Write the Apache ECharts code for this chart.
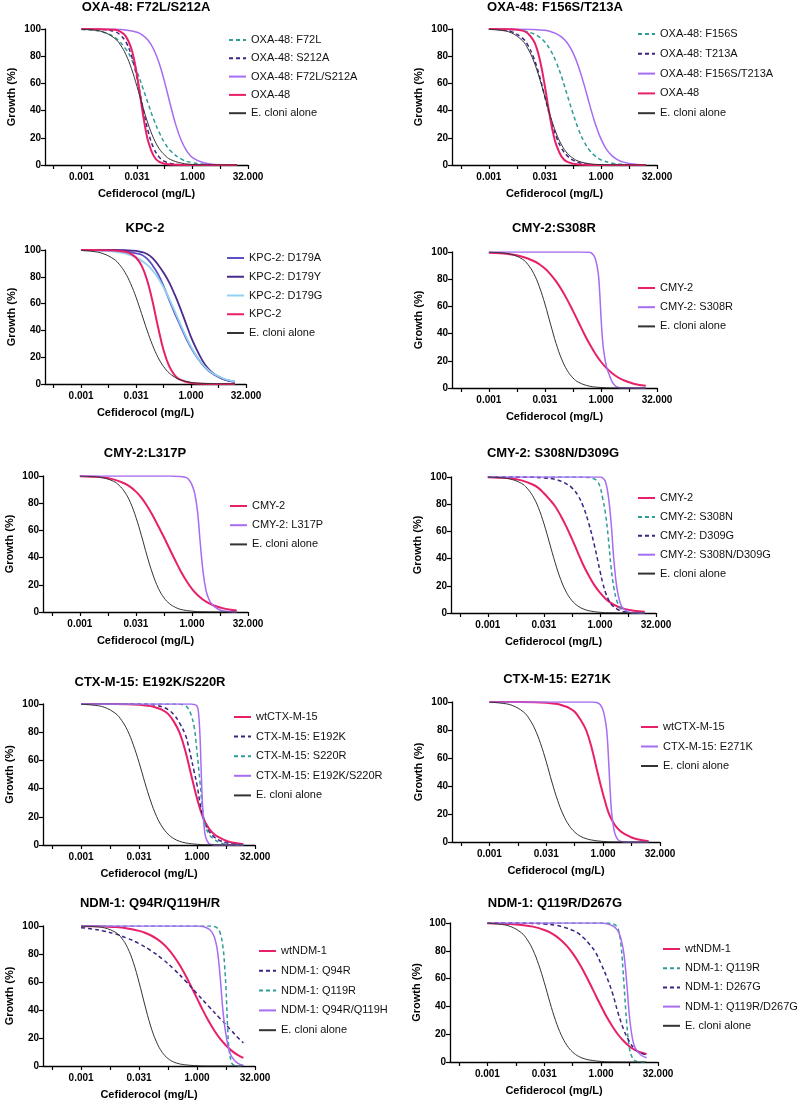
<!DOCTYPE html>
<html>
<head>
<meta charset="utf-8">
<script src="https://cdn.jsdelivr.net/npm/echarts@6/dist/echarts.min.js"></script>
<style>
html, body { margin: 0; padding: 0; background: #fff; }
#chart { width: 800px; height: 1104px; }
</style>
</head>
<body>
<div id="chart"></div>
<script>
// Cefiderocol dose (mg/L) vs growth (%)
// OXA-48: F72L/S212A
var p1F72L = [[0.000977,99.6],[0.00195,99.1],[0.0039,97.6],[0.0078,93.8],[0.0156,85.2],[0.0221,77.9],[0.0313,68.6],[0.0442,57.2],[0.0625,45.3],[0.0884,33.6],[0.125,24],[0.177,16.1],[0.25,10.6],[0.5,4.3],[1,1.7],[2,0.6],[4,0.2],[16,0]];
var p1S212A = [[0.000977,100],[0.0039,99.6],[0.0078,98.1],[0.011,95.6],[0.0156,90.5],[0.0221,80.4],[0.0313,63.9],[0.0442,43.3],[0.0625,24.8],[0.0884,12.5],[0.125,5.8],[0.177,2.6],[0.25,1.1],[0.5,0.2],[1,0],[16,0]];
var p1Double = [[0.000977,100],[0.0078,99.8],[0.0156,99.3],[0.0313,97.6],[0.0442,95.5],[0.0625,91.7],[0.0884,85.1],[0.125,74.8],[0.177,60.6],[0.25,44.5],[0.354,29.3],[0.5,17.8],[0.707,10.1],[1,5.5],[2,1.6],[4,0.4],[8,0.1],[16,0]];
var p1WT = [[0.000977,100],[0.0078,99.4],[0.011,98.1],[0.0156,94.6],[0.0221,85.3],[0.0263,77],[0.0313,65.9],[0.0372,52.7],[0.0442,39.2],[0.0526,27.1],[0.0625,17.6],[0.0884,6.7],[0.125,2.3],[0.25,0.3],[1,0],[16,0]];
var p1Cloni = [[0.000977,99.8],[0.00195,99.3],[0.0039,97.7],[0.0078,93.1],[0.011,88.5],[0.0156,81.2],[0.0221,70.9],[0.0313,57.7],[0.0442,43.5],[0.0625,30.2],[0.0884,19.6],[0.125,12],[0.177,7.2],[0.25,4.1],[0.5,1.4],[1,0.4],[2,0.1],[16,0]];
// OXA-48: F156S/T213A
var p2F156S = [[0.000977,100],[0.0039,99.6],[0.0078,98.8],[0.0156,96.5],[0.0221,94.2],[0.0313,90.3],[0.0442,84.4],[0.0625,75.8],[0.0884,64.6],[0.125,51.2],[0.177,38],[0.25,26.1],[0.354,17.1],[0.5,10.6],[0.707,6.5],[1,3.8],[2,1.3],[4,0.4],[8,0.1],[16,0]];
var p2T213A = [[0.000977,99.9],[0.00195,99.5],[0.0039,98.1],[0.0078,93.3],[0.011,87.9],[0.0156,78.9],[0.0221,65.9],[0.0313,50],[0.0442,34.1],[0.0625,21.1],[0.0884,12.1],[0.125,6.7],[0.177,3.6],[0.25,1.9],[0.5,0.5],[1,0.1],[16,0]];
var p2Double = [[0.000977,100],[0.0078,99.9],[0.0156,99.7],[0.0313,99],[0.0442,98.1],[0.0625,96.6],[0.0884,94],[0.125,89.7],[0.177,82.6],[0.25,72.3],[0.354,58.9],[0.5,44],[0.707,30.2],[1,19.2],[1.41,11.5],[2,6.7],[2.83,3.8],[4,2.1],[8,0.6],[16,0.2]];
var p2WT = [[0.000977,100],[0.0039,99.8],[0.0078,98.8],[0.011,96.7],[0.0156,91.3],[0.0186,86.3],[0.0221,79.1],[0.0263,69.4],[0.0313,57.7],[0.0372,45],[0.0442,33],[0.0526,22.8],[0.0625,15.1],[0.0884,6],[0.125,2.3],[0.25,0.3],[0.5,0],[16,0]];
var p2Cloni = [[0.000977,99.7],[0.00195,99.1],[0.0039,97.2],[0.0078,91.4],[0.011,85.4],[0.0156,76.5],[0.0221,64.3],[0.0313,50],[0.0442,35.7],[0.0625,23.5],[0.0884,14.6],[0.125,8.6],[0.177,5],[0.25,2.8],[0.5,0.9],[1,0.3],[2,0.1],[16,0]];
// KPC-2
var p3D179A = [[0.000977,100],[0.0039,99.8],[0.0156,99],[0.0313,97.5],[0.0442,96.5],[0.0625,93.5],[0.0884,88.5],[0.125,82],[0.177,73],[0.25,63],[0.354,53],[0.5,44],[0.707,35],[1,27],[1.41,20.5],[2,15],[2.83,10.5],[4,7.5],[8,3.5],[16,1.6]];
var p3D179Y = [[0.000977,100],[0.0078,100],[0.0156,99.8],[0.0313,99.3],[0.0442,98.5],[0.0625,97],[0.0884,94],[0.125,89],[0.177,83],[0.25,76],[0.354,67],[0.5,57],[0.707,46],[1,35],[1.41,26],[2,18],[2.83,12],[4,8],[5.66,5.5],[8,3.5],[16,1.5]];
var p3D179G = [[0.000977,99.9],[0.00195,99.7],[0.0039,99.4],[0.0078,98.8],[0.0156,97.4],[0.0313,94.5],[0.0625,89],[0.0884,84.7],[0.125,79.1],[0.177,72.1],[0.25,63.9],[0.354,54.7],[0.5,45.3],[0.707,36.1],[1,27.9],[1.41,20.9],[2,15.3],[2.83,11],[4,7.8],[8,3.8],[16,1.8]];
var p3KPC2 = [[0.000977,100],[0.0039,99.9],[0.0078,99.7],[0.0156,98.7],[0.0221,97.3],[0.0313,94.2],[0.0442,88.3],[0.0625,77.6],[0.0884,61.5],[0.125,42.3],[0.177,25.2],[0.25,13.5],[0.354,6.7],[0.5,3.2],[1,0.7],[2,0.1],[16,0]];
var p3Cloni = [[0.000977,99.6],[0.00195,99],[0.0039,97.3],[0.0078,93.1],[0.011,89.1],[0.0156,83.2],[0.0221,75],[0.0313,64.6],[0.0442,52.5],[0.0625,40.1],[0.0884,28.9],[0.125,19.8],[0.177,13],[0.25,8.3],[0.354,5.2],[0.5,3.2],[1,1.2],[2,0.5],[4,0.2],[16,0]];
// CMY-2:S308R
var p4CMY2 = [[0.000977,99.5],[0.00195,99.1],[0.0039,98.2],[0.0078,96.5],[0.0156,93.4],[0.0221,91],[0.0313,87.8],[0.0442,83.6],[0.0625,78.4],[0.0884,72.1],[0.125,64.8],[0.177,56.7],[0.25,48.3],[0.354,39.9],[0.5,32.1],[0.707,25.2],[1,19.3],[1.41,14.6],[2,10.8],[2.83,7.9],[4,5.8],[8,3],[16,1.6]];
var p4S308R = [[0.000977,100],[0.25,100],[0.5,99.8],[0.595,98.5],[0.707,95],[0.841,85],[0.917,72],[1,53],[1.09,37],[1.19,27],[1.41,15.5],[1.68,9.5],[2,4.5],[2.38,1.8],[2.83,0.6],[4,0.1],[16,0]];
var p4Cloni = [[0.000977,99.8],[0.00195,99.5],[0.0039,98.3],[0.0078,94.7],[0.011,90.7],[0.0156,84.3],[0.0221,74.6],[0.0313,61.8],[0.0442,47],[0.0625,32.7],[0.0884,21.1],[0.125,12.8],[0.177,7.4],[0.25,4.2],[0.5,1.3],[1,0.4],[2,0.1],[16,0]];
// CMY-2:L317P
var p5CMY2 = [[0.000977,99.8],[0.00195,99.5],[0.0039,99],[0.0078,97.5],[0.0156,94.5],[0.0221,92],[0.0313,88.5],[0.0442,84],[0.0625,78],[0.0884,71],[0.125,63],[0.177,55],[0.25,46.5],[0.354,38],[0.5,30],[0.707,23],[1,17],[1.41,12.5],[2,9],[2.83,6.5],[4,4.6],[8,2.3],[16,1.1]];
var p5L317P = [[0.000977,100],[0.25,100],[0.5,99.7],[0.707,98.8],[0.841,97],[1,93.5],[1.19,87],[1.41,74],[1.68,50],[2,29],[2.38,16],[2.83,9.5],[3.36,6],[4,4],[5.66,1.5],[8,0.5],[16,0]];
var p5Cloni = [[0.000977,99.9],[0.00195,99.6],[0.0039,98.8],[0.0078,96.1],[0.011,93.2],[0.0156,88.3],[0.0221,80.7],[0.0313,69.6],[0.0442,56],[0.0625,41.1],[0.0884,27.9],[0.125,17.5],[0.177,10.5],[0.25,6.1],[0.354,3.5],[0.5,1.9],[1,0.6],[2,0.2],[16,0]];
// CMY-2: S308N/D309G
var p6CMY2 = [[0.000977,99.8],[0.00195,99.5],[0.0039,99],[0.0078,97.5],[0.0156,94.5],[0.0221,92],[0.0313,88],[0.0442,83.5],[0.0625,78.5],[0.0884,71.5],[0.125,63.5],[0.177,54.5],[0.25,45],[0.354,35.5],[0.5,27.5],[0.707,20.5],[1,15],[1.41,10.5],[2,7.3],[2.83,5],[4,3.4],[8,1.7],[16,0.9]];
var p6S308N = [[0.000977,100],[0.25,100],[0.5,99.7],[0.707,98.5],[0.841,97],[1,93],[1.19,84],[1.41,73],[1.68,55],[2,33],[2.38,18],[2.83,9],[3.36,4.5],[4,2],[5.66,0.5],[8,0.1],[16,0]];
var p6D309G = [[0.000977,100],[0.0156,99.8],[0.0313,99.3],[0.0625,98.3],[0.0884,97],[0.125,95],[0.177,92],[0.25,87],[0.354,78.5],[0.5,66],[0.707,50],[1,31],[1.19,22],[1.41,15],[1.68,10],[2,6.5],[2.83,3],[4,1.2],[5.66,0.4],[8,0],[16,0]];
var p6Double = [[0.000977,100],[1,100],[1.19,99.3],[1.41,96.5],[1.68,86],[2,66],[2.38,38],[2.83,19],[3.36,9],[4,4],[5.66,1],[8,0.2],[16,0]];
var p6Cloni = [[0.000977,99.9],[0.00195,99.5],[0.0039,98.5],[0.0078,95.3],[0.011,91.8],[0.0156,86.2],[0.0221,77.6],[0.0313,65.7],[0.0442,51.5],[0.0625,37.1],[0.0884,24.6],[0.125,15.3],[0.177,9.1],[0.25,5.3],[0.354,3],[0.5,1.7],[1,0.5],[2,0.2],[16,0]];
// CTX-M-15: E192K/S220R
var p7WT = [[0.000977,100],[0.0156,99.9],[0.0313,99.5],[0.0625,98.5],[0.0884,97.3],[0.125,95.8],[0.177,93],[0.25,87.5],[0.354,79.5],[0.5,66.5],[0.707,49.5],[1,33],[1.41,20],[2,12],[2.83,7.5],[4,5],[5.66,3],[8,1.8],[16,0.6]];
var p7E192K = [[0.000977,100],[0.0313,100],[0.0625,99.6],[0.0884,99],[0.125,98],[0.177,96],[0.25,92.5],[0.354,86.5],[0.5,78],[0.595,70.5],[0.707,61.5],[0.841,52],[1,42.5],[1.19,30],[1.41,20.5],[1.68,14],[2,10],[2.83,5.5],[4,3],[5.66,1.6],[8,0.8],[16,0.2]];
var p7S220R = [[0.000977,100],[0.25,100],[0.354,99.8],[0.5,98.8],[0.595,96.5],[0.707,92],[0.841,84],[1,66],[1.19,45],[1.41,24],[1.68,13],[2,8],[2.38,5.5],[2.83,3.8],[4,1.5],[5.66,0.5],[8,0.1],[16,0]];
var p7Double = [[0.000977,100],[0.707,100],[0.841,99.7],[1,98.5],[1.09,94],[1.19,78],[1.3,48],[1.41,25],[1.54,12],[1.68,5.5],[2,1.2],[2.38,0.3],[2.83,0],[16,0]];
var p7Cloni = [[0.000977,99.8],[0.00195,99.2],[0.0039,97.7],[0.0078,93.1],[0.011,88.4],[0.0156,81.3],[0.0221,71.1],[0.0313,58.4],[0.0442,44.3],[0.0625,31.2],[0.0884,20.4],[0.125,12.8],[0.177,7.7],[0.25,4.5],[0.354,2.6],[0.5,1.5],[1,0.5],[2,0.2],[16,0]];
// CTX-M-15: E271K
var p8WT = [[0.000977,100],[0.0156,99.9],[0.0313,99.5],[0.0625,98.5],[0.0884,97.3],[0.125,95.8],[0.177,93],[0.25,87.5],[0.354,80],[0.5,67],[0.707,50],[1,34],[1.41,20.5],[2,12.5],[2.83,7.8],[4,5.2],[5.66,3.2],[8,1.9],[16,0.6]];
var p8E271K = [[0.000977,100],[0.5,100],[0.707,99.5],[0.841,98],[1,94],[1.19,84],[1.3,73],[1.41,56],[1.54,36],[1.68,21],[2,7],[2.38,2.2],[2.83,0.6],[4,0],[16,0]];
var p8Cloni = [[0.000977,99.8],[0.00195,99.2],[0.0039,97.6],[0.0078,92.9],[0.011,88.1],[0.0156,80.7],[0.0221,70.3],[0.0313,57.2],[0.0442,42.8],[0.0625,29.7],[0.0884,19.3],[0.125,11.9],[0.177,7.1],[0.25,4.1],[0.354,2.4],[0.5,1.4],[1,0.4],[2,0.1],[16,0]];
// NDM-1: Q94R/Q119H/R
var p9WT = [[0.000977,99.9],[0.00195,99.8],[0.0039,99.6],[0.0078,99.2],[0.0156,98.2],[0.0313,96.5],[0.0442,95.2],[0.0625,93.4],[0.0884,91],[0.125,87.8],[0.177,83.6],[0.25,78.4],[0.354,72.1],[0.5,64.8],[0.707,56.7],[1,48.3],[1.41,39.9],[2,32.1],[2.83,25.2],[4,19.3],[5.66,14.6],[8,10.8],[11.3,7.9],[16,5.8]];
var p9Q94R = [[0.000977,98.8],[0.00195,97.8],[0.0039,96.3],[0.0078,94.2],[0.0156,91.2],[0.0313,87.4],[0.0625,82.5],[0.125,76.5],[0.25,69.2],[0.5,60.8],[1,51.7],[2,42.6],[4,33.8],[8,25],[11.3,20.5],[16,16.5]];
var p9Q119R = [[0.000977,100],[2,100],[2.83,99.7],[3.36,98.5],[4,95],[4.76,84],[5.19,72],[5.66,55],[6.17,30],[6.73,13],[8,2],[9.51,0.3],[11.3,0],[16,0]];
var p9Double = [[0.000977,100],[1,100],[1.41,99.6],[2,98],[2.38,96],[2.83,92],[3.36,83],[4,63],[4.76,38],[5.66,22],[6.73,12],[8,6.5],[11.3,2],[16,0.5]];
var p9Cloni = [[0.000977,99.9],[0.00195,99.6],[0.0039,98.7],[0.0078,95.3],[0.011,91.4],[0.0156,84.6],[0.0221,74.1],[0.0313,59.6],[0.0442,43.5],[0.0625,28.5],[0.0884,17.2],[0.125,9.7],[0.177,5.3],[0.25,2.8],[0.354,1.5],[0.5,0.8],[1,0.2],[2,0],[16,0]];
// NDM-1: Q119R/D267G
var p10WT = [[0.000977,99.8],[0.00195,99.6],[0.0039,99.3],[0.0078,98.6],[0.0156,97.4],[0.0313,95],[0.0442,93.2],[0.0625,90.7],[0.0884,87.4],[0.125,83.3],[0.177,78.1],[0.25,71.9],[0.354,64.6],[0.5,56.7],[0.707,48.3],[1,40.1],[1.41,32.3],[2,25.5],[2.83,19.6],[4,14.9],[5.66,11.1],[8,8.5],[11.3,6.8],[16,5.8]];
var p10Q119R = [[0.000977,100],[1.41,100],[2,99.5],[2.38,98.5],[2.83,95.5],[3.36,84],[4,57],[4.76,28],[5.66,9.5],[6.73,3],[8,0.8],[11.3,0],[16,0]];
var p10D267G = [[0.000977,100],[0.0078,99.9],[0.0156,99.7],[0.0313,99.3],[0.0625,98.4],[0.0884,97.5],[0.125,96.3],[0.177,94.7],[0.25,92.5],[0.354,89],[0.5,84.5],[0.707,79],[1,70.5],[1.41,61],[2,49.5],[2.83,35],[4,23],[5.66,14.5],[8,9],[11.3,6.5],[16,5]];
var p10Double = [[0.000977,100],[1,100],[1.41,99.5],[2,98],[2.38,96.5],[2.83,94],[3.36,88.5],[4,78],[4.76,57],[5.66,32],[6.73,17],[8,10],[11.3,5],[16,3]];
var p10Cloni = [[0.000977,99.8],[0.00195,99.2],[0.0039,97.6],[0.0078,92.9],[0.011,88.1],[0.0156,80.7],[0.0221,70.3],[0.0313,57.2],[0.0442,42.8],[0.0625,29.7],[0.0884,19.3],[0.125,11.9],[0.177,7.1],[0.25,4.1],[0.354,2.4],[0.5,1.4],[1,0.4],[2,0.1],[16,0]];

// x axis ticks (mg/L)
var xLabelValues = [0.0009765625, 0.03125, 1, 32];
var xLabelTexts = ['0.001', '0.031', '1.000', '32.000'];
var xTickValues = [0.000172633, 0.0009765625, 0.0055243, 0.03125, 0.1767767, 1, 5.656854, 32];

var FONT = '"Liberation Sans", Arial, Helvetica, sans-serif';
var styles = {
    teal:   { color: '#2e9d96', width: 1.5, type: [4, 3] },
    indigo: { color: '#3d2382', width: 1.5, type: [4, 3] },
    violet: { color: '#a66cf2', width: 1.5, type: 'solid' },
    pink:   { color: '#e8206a', width: 2, type: 'solid' },
    black:  { color: '#333333', width: 1, type: 'solid' },
    kpcA:   { color: '#5b50c6', width: 1.8, type: 'solid' },
    kpcY:   { color: '#4a2a8e', width: 1.8, type: 'solid' },
    kpcG:   { color: '#90d2ef', width: 1.8, type: 'solid' }
};

var panels = [
    { title: 'OXA-48: F72L/S212A', grid: [45, 29, 203, 136], tx: 146, ty: 7, lg: [228, 40, 18.3],
      curves: [['OXA-48: F72L', p1F72L, 'teal'], ['OXA-48: S212A', p1S212A, 'indigo'], ['OXA-48: F72L/S212A', p1Double, 'violet'], ['OXA-48', p1WT, 'pink'], ['E. cloni alone', p1Cloni, 'black']] },
    { title: 'OXA-48: F156S/T213A', grid: [452, 29, 205, 136], tx: 555, ty: 7, lg: [637, 34, 19.8],
      curves: [['OXA-48: F156S', p2F156S, 'teal'], ['OXA-48: T213A', p2T213A, 'indigo'], ['OXA-48: F156S/T213A', p2Double, 'violet'], ['OXA-48', p2WT, 'pink'], ['E. cloni alone', p2Cloni, 'black']] },
    { title: 'KPC-2', grid: [45, 250, 201, 134], tx: 145, ty: 228, lg: [226, 258, 18.75],
      curves: [['KPC-2: D179A', p3D179A, 'kpcA'], ['KPC-2: D179Y', p3D179Y, 'kpcY'], ['KPC-2: D179G', p3D179G, 'kpcG'], ['KPC-2', p3KPC2, 'pink'], ['E. cloni alone', p3Cloni, 'black']] },
    { title: 'CMY-2:S308R', grid: [452, 252, 205, 136], tx: 554, ty: 228, lg: [637, 288, 19.2],
      curves: [['CMY-2', p4CMY2, 'pink'], ['CMY-2: S308R', p4S308R, 'violet'], ['E. cloni alone', p4Cloni, 'black']] },
    { title: 'CMY-2:L317P', grid: [43, 476, 205, 136], tx: 145, ty: 453, lg: [229, 506, 19.2],
      curves: [['CMY-2', p5CMY2, 'pink'], ['CMY-2: L317P', p5L317P, 'violet'], ['E. cloni alone', p5Cloni, 'black']] },
    { title: 'CMY-2: S308N/D309G', grid: [451, 477, 205, 136], tx: 553, ty: 453, lg: [637, 498, 18.9],
      curves: [['CMY-2', p6CMY2, 'pink'], ['CMY-2: S308N', p6S308N, 'teal'], ['CMY-2: D309G', p6D309G, 'indigo'], ['CMY-2: S308N/D309G', p6Double, 'violet'], ['E. cloni alone', p6Cloni, 'black']] },
    { title: 'CTX-M-15: E192K/S220R', grid: [43, 704, 212, 141], tx: 150, ty: 682, lg: [233, 717, 19.6],
      curves: [['wtCTX-M-15', p7WT, 'pink'], ['CTX-M-15: E192K', p7E192K, 'indigo'], ['CTX-M-15: S220R', p7S220R, 'teal'], ['CTX-M-15: E192K/S220R', p7Double, 'violet'], ['E. cloni alone', p7Cloni, 'black']] },
    { title: 'CTX-M-15: E271K', grid: [452, 702, 208, 140], tx: 557, ty: 679, lg: [640, 727, 19.5],
      curves: [['wtCTX-M-15', p8WT, 'pink'], ['CTX-M-15: E271K', p8E271K, 'violet'], ['E. cloni alone', p8Cloni, 'black']] },
    { title: 'NDM-1: Q94R/Q119H/R', grid: [43, 926, 212, 140], tx: 150, ty: 903, lg: [258, 951, 19.8],
      curves: [['wtNDM-1', p9WT, 'pink'], ['NDM-1: Q94R', p9Q94R, 'indigo'], ['NDM-1: Q119R', p9Q119R, 'teal'], ['NDM-1: Q94R/Q119H', p9Double, 'violet'], ['E. cloni alone', p9Cloni, 'black']] },
    { title: 'NDM-1: Q119R/D267G', grid: [450, 923, 208, 139], tx: 555, ty: 903, lg: [662, 949, 19.2],
      curves: [['wtNDM-1', p10WT, 'pink'], ['NDM-1: Q119R', p10Q119R, 'teal'], ['NDM-1: D267G', p10D267G, 'indigo'], ['NDM-1: Q119R/D267G', p10Double, 'violet'], ['E. cloni alone', p10Cloni, 'black']] }
];

function xLabel(v) {
    var best = 0;
    for (var i = 1; i < xLabelValues.length; i++) {
        if (Math.abs(Math.log(v / xLabelValues[i])) < Math.abs(Math.log(v / xLabelValues[best]))) best = i;
    }
    return xLabelTexts[best];
}

var chart = echarts.init(document.getElementById('chart'));
var option = {
    animation: false,
    backgroundColor: '#fff',
    textStyle: { fontFamily: FONT },
    title: [], grid: [], xAxis: [], yAxis: [], legend: [], series: []
};

panels.forEach(function (p, i) {
    option.title.push({
        text: p.title, left: p.tx, top: p.ty - 6, textAlign: 'center', padding: 0,
        textStyle: { fontSize: 13, fontWeight: 'bold', color: '#000', fontFamily: FONT }
    });
    option.grid.push({ left: p.grid[0], top: p.grid[1], width: p.grid[2], height: p.grid[3] });
    option.xAxis.push({
        type: 'log', logBase: 2, gridIndex: i, min: 0.0001, max: 32,
        name: 'Cefiderocol (mg/L)', nameLocation: 'middle', nameGap: 23,
        nameTextStyle: { fontSize: 11, fontWeight: 'bold', color: '#000', fontFamily: FONT },
        axisLine: { show: true, lineStyle: { color: '#000', width: 1.3 } },
        axisTick: { show: true, length: 4, customValues: xTickValues, lineStyle: { color: '#000', width: 1.2 } },
        axisLabel: { customValues: xLabelValues, formatter: xLabel, margin: 7, fontSize: 10, fontWeight: 'bold', color: '#000', fontFamily: FONT },
        splitLine: { show: false }
    });
    option.yAxis.push({
        type: 'value', gridIndex: i, min: 0, max: 100, interval: 20,
        name: 'Growth (%)', nameLocation: 'middle', nameGap: 28, nameRotate: 90,
        nameTextStyle: { fontSize: 11, fontWeight: 'bold', color: '#000', fontFamily: FONT },
        axisLine: { show: true, lineStyle: { color: '#000', width: 1.3 } },
        axisTick: { show: true, length: 4, lineStyle: { color: '#000', width: 1.2 } },
        axisLabel: { margin: 4, fontSize: 10, fontWeight: 'bold', color: '#000', fontFamily: FONT },
        splitLine: { show: false }
    });
    option.legend.push({
        orient: 'vertical', left: p.lg[0], top: p.lg[1] - 6, itemGap: p.lg[2] - 12,
        itemWidth: 17, itemHeight: 10, padding: 0, selectedMode: false,
        itemStyle: { opacity: 0 },
        textStyle: { fontSize: 11, color: '#111', lineHeight: 12, fontFamily: FONT },
        data: p.curves.map(function (c) { return c[0]; })
    });
    p.curves.forEach(function (c) {
        var st = styles[c[2]];
        option.series.push({
            type: 'line', name: c[0], xAxisIndex: i, yAxisIndex: i,
            data: c[1], symbol: 'none', smooth: 0.4, silent: true,
            lineStyle: { color: st.color, width: st.width, type: st.type },
            itemStyle: { color: st.color }
        });
    });
});

chart.setOption(option);
</script>
</body>
</html>
